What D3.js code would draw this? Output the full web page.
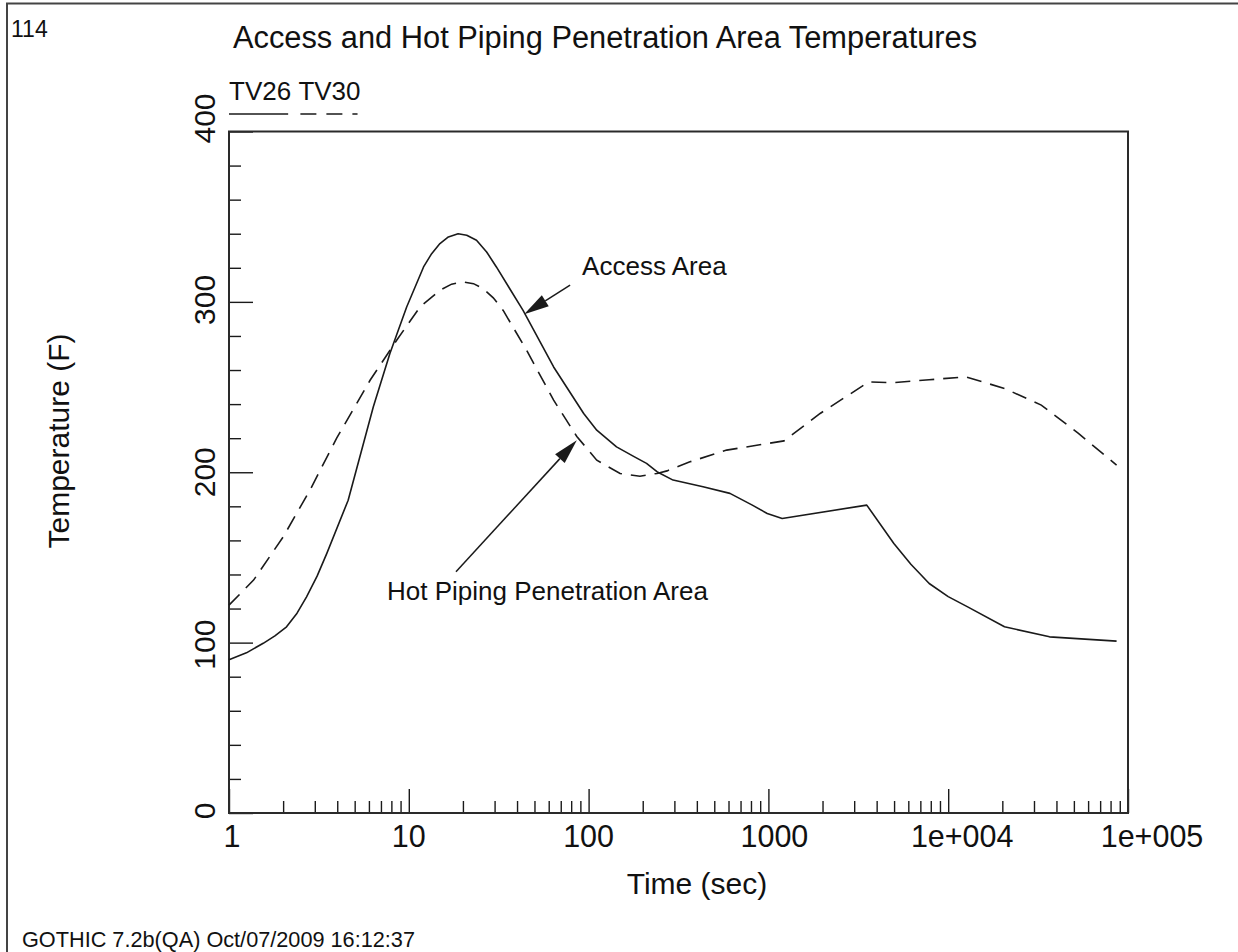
<!DOCTYPE html>
<html><head><meta charset="utf-8">
<script src="https://cdn.jsdelivr.net/npm/d3@7"></script>
<style>
body{margin:0;background:#fff}
text{font-family:"Liberation Sans",Arial,Helvetica,sans-serif;fill:#111}
</style>
</head><body>
<svg id="c" width="1238" height="952"></svg>
<script>
// ---- data ----
const accessTime = [1,1.25,1.55,1.8,2.09,2.39,2.7,3.09,3.5,4.6,6.35,7.85,9.73,12.08,13.4,14.9,16.6,18.8,21.0,23.8,27.1,30.7,43.2,63.9,93.9,111,143,180,210,240,295,433,611,814,985,1193,3525,4986,6200,7840,10000,12830,20560,36600,86400];
const accessTemp = [90,94,99.6,104,109.3,117.3,126.9,139,152.4,183.6,238.4,269.7,297,320.5,328.3,334.2,338.1,340,339.1,336.2,329.3,320.5,295,261.8,234.5,224.7,214.9,209,205.2,200.3,195.4,191.5,187.6,180.7,175.8,172.9,180.7,158.2,146,134.7,127,121,109.3,103.4,100.9];
const hotTime = [1,1.37,2.0,2.82,3.97,6.09,8.56,11.55,14.9,17.3,20.1,22.9,25.9,29.5,33.5,45.2,63.9,86,111,149.6,193,240,273,366,586,1220,1940,3610,4986,7840,12490,20560,32930,53000,86400];
const hotTemp = [122,136.7,162,189.5,220,254,277.5,297,306.8,310.4,311.7,310.7,307.8,302.4,295,271.6,242.3,221,207.1,199.3,197.7,199.3,200.8,206.1,213,218.4,234.5,253,252.6,254.3,256,249.2,239.4,222.8,204.2];
const seriesNames = ["TV26","TV30"];
const xTickValues = [1,10,100,1000,10000,100000];
const xTickLabels = ["1","10","100","1000","1e+004","1e+005"];
const yTickValues = [0,100,200,300,400];
const yTickLabels = ["0","100","200","300","400"];
const annotations = [
  {label:"Access Area", textT:92, textV:316, tailT:78.9, tailV:309.8, tipT:43.8, tipV:292.8},
  {label:"Hot Piping Penetration Area", textT:7.57, textV:125, tailT:18.3, tailV:141.6, tipT:86, tipV:218.8}
];
const chartTitle = "Access and Hot Piping Penetration Area Temperatures";
const pageNumber = "114";
const xTitle = "Time (sec)";
const yTitle = "Temperature (F)";
const footer = "GOTHIC 7.2b(QA) Oct/07/2009 16:12:37";

// ---- layout ----
const L = 229, R = 1128, T = 131.5, B = 813;
const xLabelShift = [3,0,0,6,14,24];   // label centre offsets from tick (px)
const yLabelShift = [-2,2,0,-2,-13];
const svg = d3.select("#c");
const x = d3.scaleLog().domain([1,1e5]).range([L,R]);
const y = d3.scaleLinear().domain([0,400]).range([B,T]);
const ink = "#1a1a1a";

// outer page border (left/top)
svg.append("path").attr("d","M7,952V3.5H1238").attr("fill","none").attr("stroke","#444").attr("stroke-width",2);

// page number & title
svg.append("text").attr("x",11).attr("y",37).attr("font-size",23).text(pageNumber);
svg.append("text").attr("x",233).attr("y",48).attr("font-size",30.8).text(chartTitle);

// axes ticks
const xMinor = x.ticks().filter(v => !xTickValues.includes(v) && v < 1e5);
const gx = svg.append("g").attr("transform",`translate(0,${B})`);
gx.call(d3.axisBottom(x).tickValues(xTickValues).tickSize(-24).tickFormat(""));
gx.call(g=>g.select(".domain").remove());
const gx2 = svg.append("g").attr("transform",`translate(0,${B})`);
gx2.call(d3.axisBottom(x).tickValues(xMinor).tickSize(-12).tickFormat(""));
gx2.call(g=>g.select(".domain").remove());
const yMinor = d3.range(0,401,20).filter(v => !yTickValues.includes(v));
const gy = svg.append("g").attr("transform",`translate(${L},0)`);
gy.call(d3.axisLeft(y).tickValues(yTickValues).tickSize(-24).tickFormat(""));
gy.call(g=>g.select(".domain").remove());
const gy2 = svg.append("g").attr("transform",`translate(${L},0)`);
gy2.call(d3.axisLeft(y).tickValues(yMinor).tickSize(-12).tickFormat(""));
gy2.call(g=>g.select(".domain").remove());
svg.selectAll(".tick line").attr("stroke",ink).attr("stroke-width",1.4);

// frame
svg.append("rect").attr("x",L).attr("y",T).attr("width",R-L).attr("height",B-T)
  .attr("fill","none").attr("stroke","#2a2a2a").attr("stroke-width",2);

// x tick labels
xTickValues.forEach((v,i)=>{
  svg.append("text").attr("font-size",30.5).attr("text-anchor","middle")
    .attr("x", x(v)+xLabelShift[i]).attr("y",847).text(xTickLabels[i]);
});
// y tick labels (rotated)
yTickValues.forEach((v,i)=>{
  svg.append("text").attr("font-size",30).attr("text-anchor","middle")
    .attr("transform",`translate(215,${y(v)+yLabelShift[i]}) rotate(-90)`).text(yTickLabels[i]);
});
// axis titles
svg.append("text").attr("font-size",30).attr("text-anchor","middle").attr("x",697).attr("y",894).text(xTitle);
svg.append("text").attr("font-size",30).attr("text-anchor","middle")
  .attr("transform","translate(69,441) rotate(-90)").text(yTitle);

// curves
const line = d3.line().x(d=>x(d[0])).y(d=>y(d[1]));
const accessData = accessTime.map((t,i)=>[t,accessTemp[i]]);
const hotData = hotTime.map((t,i)=>[t,hotTemp[i]]);
svg.append("path").attr("d",line(accessData)).attr("fill","none").attr("stroke",ink).attr("stroke-width",1.6).attr("stroke-linejoin","round");
svg.append("path").attr("d",line(hotData)).attr("fill","none").attr("stroke",ink).attr("stroke-width",1.6)
  .attr("stroke-dasharray","15,9");

// legend
const lt1 = svg.append("text").attr("x",229).attr("y",100).attr("font-size",26).text(seriesNames[0]);
const w1 = lt1.node().getComputedTextLength();
const sp = 26*0.278;
const lt2 = svg.append("text").attr("x",229+w1+sp).attr("y",100).attr("font-size",26).text(seriesNames[1]);
const w2 = lt2.node().getComputedTextLength();
svg.append("line").attr("x1",229).attr("x2",229+w1-3).attr("y1",114).attr("y2",114).attr("stroke",ink).attr("stroke-width",1.5);
svg.append("line").attr("x1",229+w1+sp+2).attr("x2",229+w1+sp+w2-3).attr("y1",114).attr("y2",114).attr("stroke",ink).attr("stroke-width",1.5).attr("stroke-dasharray","16,10");

// annotations with arrows
annotations.forEach(a=>{
  svg.append("text").attr("x",x(a.textT)).attr("y",y(a.textV)).attr("font-size",26).text(a.label);
  const x1=x(a.tailT), y1=y(a.tailV), x2=x(a.tipT), y2=y(a.tipV);
  const dx=x2-x1, dy=y2-y1, len=Math.hypot(dx,dy), ux=dx/len, uy=dy/len;
  const hl=25, hw=6.5;
  const bx=x2-ux*hl, by=y2-uy*hl;
  svg.append("line").attr("x1",x1).attr("y1",y1).attr("x2",bx).attr("y2",by).attr("stroke",ink).attr("stroke-width",1.5);
  svg.append("path").attr("d",`M${x2},${y2}L${bx-uy*hw},${by+ux*hw}L${bx+uy*hw},${by-ux*hw}Z`).attr("fill",ink);
});

// footer
svg.append("text").attr("x",22).attr("y",947).attr("font-size",21.7).text(footer);
</script>
</body></html>
